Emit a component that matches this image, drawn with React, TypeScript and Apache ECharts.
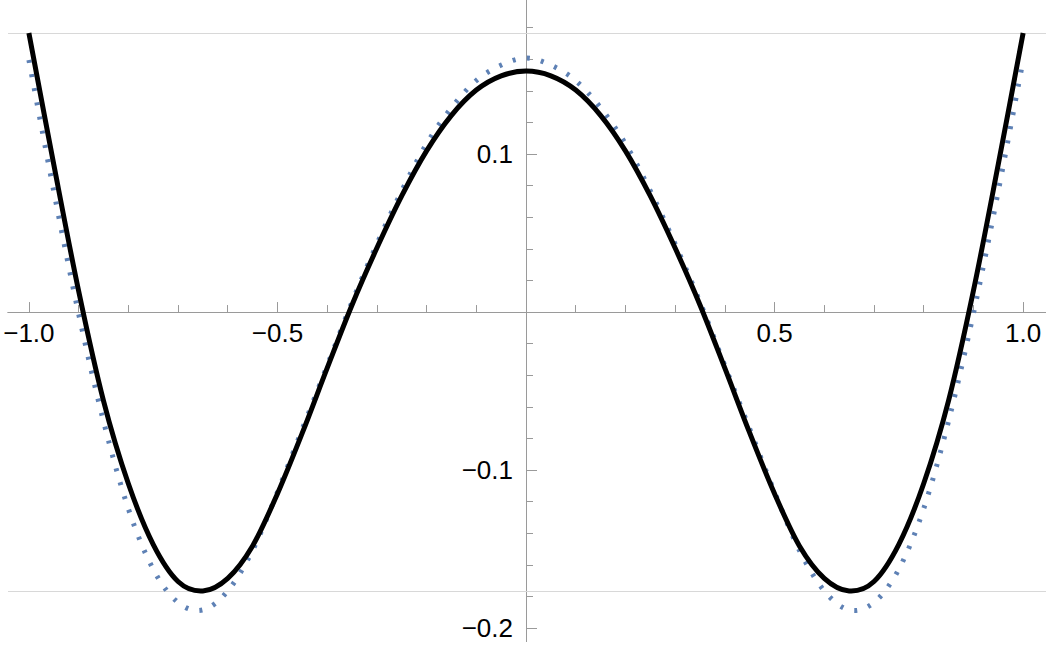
import React, { useEffect, useRef } from "react";
import * as echarts from "echarts";

// sample positions (x)
const xs = [
  -1, -0.95, -0.9, -0.85, -0.8, -0.75, -0.7, -0.65, -0.6, -0.55, -0.5,
  -0.45, -0.4, -0.35, -0.3, -0.25, -0.2, -0.15, -0.1, -0.05, 0,
  0.05, 0.1, 0.15, 0.2, 0.25, 0.3, 0.35, 0.4, 0.45, 0.5,
  0.55, 0.6, 0.65, 0.7, 0.75, 0.8, 0.85, 0.9, 0.95, 1,
];

// solid black curve
const solidValues = [
  0.1766, 0.0935, 0.0135, -0.056, -0.1085, -0.147, -0.1705, -0.1765, -0.1685, -0.148, -0.115,
  -0.0765, -0.0355, 0.0045, 0.0405, 0.0735, 0.102, 0.1245, 0.1405, 0.1495, 0.1525,
  0.1495, 0.1405, 0.1245, 0.102, 0.0735, 0.0405, 0.0045, -0.0355, -0.0765, -0.115,
  -0.148, -0.1685, -0.1765, -0.1705, -0.147, -0.1085, -0.056, 0.0135, 0.0935, 0.1766,
];

// dotted blue curve
const dottedValues = [
  0.1595, 0.0765, -0.001, -0.069, -0.1244, -0.1627, -0.1838, -0.1885, -0.1765, -0.1508, -0.114,
  -0.074, -0.034, 0.0063, 0.043, 0.0767, 0.1065, 0.1293, 0.1465, 0.1563, 0.1608,
  0.1563, 0.1465, 0.1293, 0.1065, 0.0767, 0.043, 0.0063, -0.034, -0.074, -0.114,
  -0.1508, -0.1765, -0.1885, -0.1838, -0.1627, -0.1244, -0.069, -0.001, 0.0765, 0.1595,
];

// horizontal grid lines
const gridLineValues = [0.1766, -0.1766];

// ticks and labels
const xMajorTicks = [-1, -0.5, 0.5, 1];
const xMinorTicks = [-0.9, -0.8, -0.7, -0.6, -0.4, -0.3, -0.2, -0.1, 0.1, 0.2, 0.3, 0.4, 0.6, 0.7, 0.8, 0.9];
const yMajorTicks = [-0.2, -0.1, 0.1];
const yMinorTicks = [
  -0.18, -0.16, -0.14, -0.12, -0.08, -0.06, -0.04, -0.02,
  0.02, 0.04, 0.06, 0.08, 0.12, 0.14, 0.16, 0.18,
];

const X_MIN = -1.042;
const X_MAX = 1.046;
const Y_MIN = -0.2085;
const Y_MAX = 0.1975;

const W = 1046;
const H = 648;
const G_LEFT = 8;
const G_RIGHT = 0;
const G_TOP = 0;
const G_BOTTOM = 6.5;

const AXIS_COLOR = "#9a9a9a";
const FONT = "'Liberation Sans', Arial, sans-serif";

const fmt = (v: number) => (v < 0 ? "\u2212" : "") + Math.abs(v).toFixed(1);

// Catmull-Rom spline through pixel points, as an SVG path string
const splinePath = (pts: number[][]) => {
  let d = `M${pts[0][0]},${pts[0][1]}`;
  for (let i = 0; i < pts.length - 1; i++) {
    const p0 = pts[Math.max(0, i - 1)];
    const p1 = pts[i];
    const p2 = pts[i + 1];
    const p3 = pts[Math.min(pts.length - 1, i + 2)];
    const c1x = p1[0] + (p2[0] - p0[0]) / 6;
    const c1y = p1[1] + (p2[1] - p0[1]) / 6;
    const c2x = p2[0] - (p3[0] - p1[0]) / 6;
    const c2y = p2[1] - (p3[1] - p1[1]) / 6;
    d += ` C${c1x},${c1y} ${c2x},${c2y} ${p2[0]},${p2[1]}`;
  }
  return d;
};

export default function App() {
  const ref = useRef<HTMLDivElement>(null);

  useEffect(() => {
    if (!ref.current) return;
    const chart = echarts.init(ref.current, undefined, { renderer: "svg" });

    const solidData = xs.map((x, i) => [x, solidValues[i]]);
    const dottedData = xs.map((x, i) => [x, dottedValues[i]]);

    // pixel positions of the value 0 on each axis (where the axes cross)
    const zeroX = G_LEFT + ((0 - X_MIN) / (X_MAX - X_MIN)) * (W - G_LEFT - G_RIGHT);
    const zeroY = G_TOP + ((Y_MAX - 0) / (Y_MAX - Y_MIN)) * (H - G_TOP - G_BOTTOM);

    const labelStyle = {
      fontSize: 26,
      fontFamily: FONT,
      color: "#000",
      formatter: (v: number) => fmt(v),
    };

    const hiddenX = (gridIndex: number) => ({ type: "value", gridIndex, show: false, min: X_MIN, max: X_MAX });
    const hiddenY = (gridIndex: number) => ({ type: "value", gridIndex, show: false, min: Y_MIN, max: Y_MAX });

    const curveSeries = (name: string, data: number[][], z: number, style: any) => ({
      type: "custom",
      name,
      coordinateSystem: "cartesian2d",
      xAxisIndex: 0,
      yAxisIndex: 0,
      data,
      z,
      silent: true,
      encode: { x: 0, y: 1 },
      renderItem: (params: any, api: any) => {
        if (params.dataIndex !== 0) return null;
        const pts = data.map((p) => api.coord(p));
        return {
          type: "path",
          shape: { pathData: splinePath(pts) },
          style: { fill: "none", ...style },
          silent: true,
        };
      },
    });

    chart.setOption({
      animation: false,
      backgroundColor: "#fff",
      grid: [
        { left: G_LEFT, right: G_RIGHT, top: G_TOP, bottom: G_BOTTOM, containLabel: false, outerBoundsMode: "none" },
        // y labels: grid whose left edge sits on x = 0
        { left: zeroX, width: 1, top: G_TOP, bottom: G_BOTTOM, containLabel: false, outerBoundsMode: "none" },
        // x labels: grid whose bottom edge sits on y = 0
        { left: G_LEFT, right: G_RIGHT, top: G_TOP, height: zeroY - G_TOP, containLabel: false, outerBoundsMode: "none" },
      ],
      xAxis: [
        {
          type: "value",
          gridIndex: 0,
          min: X_MIN,
          max: X_MAX,
          position: "bottom",
          axisLine: { show: true, onZero: true, onZeroAxisIndex: 0, lineStyle: { color: AXIS_COLOR, width: 1 } },
          axisTick: { show: true, inside: true, length: 10, customValues: xMajorTicks, lineStyle: { color: AXIS_COLOR, width: 1 } },
          axisLabel: { show: false },
          splitLine: { show: false },
        },
        {
          type: "value",
          gridIndex: 0,
          min: X_MIN,
          max: X_MAX,
          position: "top",
          axisLine: { show: true, onZero: true, onZeroAxisIndex: 0, lineStyle: { color: AXIS_COLOR, width: 1 } },
          axisTick: { show: true, inside: false, length: 7, customValues: xMinorTicks, lineStyle: { color: AXIS_COLOR, width: 1 } },
          axisLabel: { show: false },
          splitLine: { show: false },
        },
        hiddenX(1),
        {
          type: "value",
          gridIndex: 2,
          min: X_MIN,
          max: X_MAX,
          position: "bottom",
          axisLine: { show: false, onZero: false },
          axisTick: { show: false },
          axisLabel: { ...labelStyle, customValues: xMajorTicks, margin: 8 },
          splitLine: { show: false },
        },
      ],
      yAxis: [
        {
          type: "value",
          gridIndex: 0,
          min: Y_MIN,
          max: Y_MAX,
          position: "left",
          axisLine: { show: true, onZero: true, onZeroAxisIndex: 0, lineStyle: { color: AXIS_COLOR, width: 1 } },
          axisTick: { show: true, inside: true, length: 11, customValues: yMajorTicks, lineStyle: { color: AXIS_COLOR, width: 1 } },
          axisLabel: { show: false },
          splitLine: { show: false },
        },
        {
          type: "value",
          gridIndex: 0,
          min: Y_MIN,
          max: Y_MAX,
          position: "right",
          axisLine: { show: true, onZero: true, onZeroAxisIndex: 0, lineStyle: { color: AXIS_COLOR, width: 1 } },
          axisTick: { show: true, inside: false, length: 7, customValues: yMinorTicks, lineStyle: { color: AXIS_COLOR, width: 1 } },
          axisLabel: { show: false },
          splitLine: { show: false },
        },
        {
          type: "value",
          gridIndex: 1,
          min: Y_MIN,
          max: Y_MAX,
          position: "left",
          axisLine: { show: false, onZero: false },
          axisTick: { show: false },
          axisLabel: { ...labelStyle, customValues: yMajorTicks, margin: 13 },
          splitLine: { show: false },
        },
        hiddenY(2),
      ],
      series: [
        {
          // carries the two horizontal grid lines
          type: "line",
          name: "grid",
          data: solidData,
          xAxisIndex: 0,
          yAxisIndex: 0,
          showSymbol: false,
          symbol: "none",
          silent: true,
          z: 1,
          lineStyle: { opacity: 0 },
          markLine: {
            silent: true,
            symbol: ["none", "none"],
            precision: 6,
            z: 1,
            label: { show: false },
            lineStyle: { color: "#d8d8d8", width: 1, type: "solid", opacity: 1 },
            data: gridLineValues.map((v) => ({ yAxis: v })),
          },
        },
        curveSeries("dotted", dottedData, 2, {
          stroke: "#5E81B5",
          lineWidth: 5,
          lineDash: [3, 11.4],
          lineCap: "butt",
        }),
        curveSeries("solid", solidData, 3, {
          stroke: "#000",
          lineWidth: 5,
          lineCap: "butt",
          lineJoin: "round",
        }),
      ],
    });

    return () => chart.dispose();
  }, []);

  return (
    <div
      ref={ref}
      style={{ position: "absolute", left: 0, top: 0, width: W, height: H, background: "#fff" }}
    />
  );
}
